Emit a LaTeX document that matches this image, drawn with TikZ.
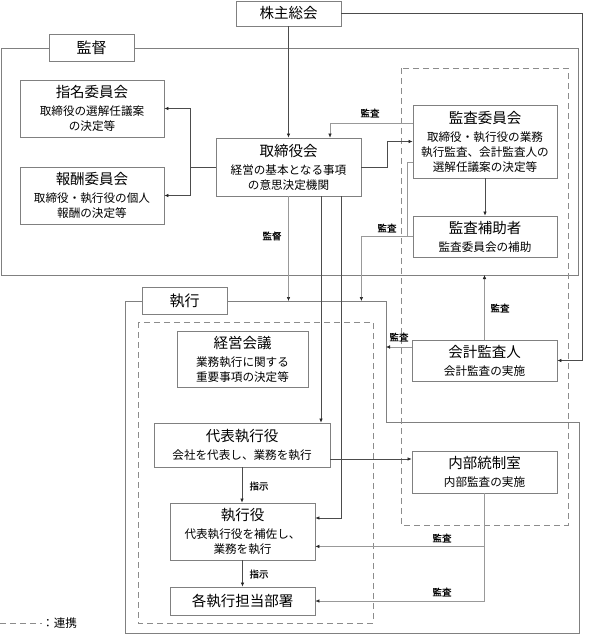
\documentclass[tikz,border=0pt]{standalone}
\usepackage{fontspec}
\setmainfont{Noto Sans CJK JP}
\newfontfamily\labfont[FakeBold=0.6]{Noto Sans CJK JP}
\usetikzlibrary{arrows.meta,calc}
\newcommand{\tfont}{\fontsize{14.5}{17}\selectfont}
\newcommand{\sfontx}{\fontsize{11.6}{15}\selectfont}
\newcommand{\lfont}{\labfont\fontsize{9.5}{11}\selectfont}
\newcommand{\ffont}{\fontsize{15}{17}\selectfont}
\begin{document}
\begin{tikzpicture}[x=1pt,y=-1pt,
 box/.style={draw=black!50, line width=0.8pt, fill=white, align=center, inner sep=0pt, font=\sfontx},
 frame/.style={draw=black!50, line width=0.8pt},
 grp/.style={draw=black!45, line width=1pt, dash pattern=on 6pt off 4pt},
 conn/.style={draw=black!70, line width=0.6pt},
 arr/.style={conn, -{Latex[length=4pt,width=3.5pt,color=black!85]}},
 dots/.style={draw=black!40, line width=0.5pt, dash pattern=on 0.5pt off 0.5pt},
 darr/.style={dots, -{Latex[length=4pt,width=3.5pt,color=black!85]}},
 lab/.style={font=\lfont, inner sep=1pt}
]
\useasboundingbox (0,0) rectangle (589,635);

% frames
\coordinate (kvTL) at (1,48);
\coordinate (kvBR) at (578,275);
\coordinate (exTL) at (125,301);
\coordinate (exR) at (386,301);
\draw[frame] (kvTL) rectangle (kvBR);
\draw[frame] (exTL) -- (exR) -- (386,422) -- (579,422) -- (579,633) -- (125,633) -- cycle;
\draw[grp] (401,68) rectangle (568,525);
\draw[grp] (138,322) rectangle (373,623);
\node[box, font=\ffont, minimum width=85pt, minimum height=27pt] (kantoku) at (91.5,47.5) {監督};
\node[box, font=\ffont, minimum width=85pt, minimum height=27pt] (shikkoL) at (184.5,300.5) {執行};

% boxes
\node[box, font=\tfont, minimum width=105pt, minimum height=25pt] (kabu) at (288.5,13.5) {株主総会};
\node[box, minimum width=144pt, minimum height=57pt] (shimei) at (92,108.5) {{\tfont 指名委員会}\\[3pt]取締役の選解任議案\\の決定等};
\node[box, minimum width=144pt, minimum height=57pt] (hoshu) at (92,195.5) {{\tfont 報酬委員会}\\[3pt]取締役・執行役の個人\\報酬の決定等};
\node[box, minimum width=145pt, minimum height=58pt] (tori) at (288.5,167) {{\tfont 取締役会}\\[3pt]経営の基本となる事項\\の意思決定機関};
\node[box, minimum width=144pt, minimum height=73pt] (kansa) at (485,141.5) {{\tfont 監査委員会}\\[3pt]取締役・執行役の業務\\執行監査、会計監査人の\\選解任議案の決定等};
\node[box, minimum width=144pt, minimum height=41pt] (hojo) at (485,236.5) {{\tfont 監査補助者}\\[3pt]監査委員会の補助};
\node[box, minimum width=145pt, minimum height=41pt] (kaikei) at (484.5,360.5) {{\tfont 会計監査人}\\[3pt]会計監査の実施};
\node[box, minimum width=131pt, minimum height=56pt] (keiei) at (242.5,359) {{\tfont 経営会議}\\[3pt]業務執行に関する\\重要事項の決定等};
\node[box, minimum width=176pt, minimum height=44pt] (daihyo) at (242,445) {{\tfont 代表執行役}\\[3pt]会社を代表し、業務を執行};
\node[box, minimum width=145pt, minimum height=57pt] (shikko) at (242.5,531.5) {{\tfont 執行役}\\[3pt]代表執行役を補佐し、\\業務を執行};
\node[box, font=\tfont, minimum width=145pt, minimum height=28pt] (kaku) at (242.5,601) {各執行担当部署};
\node[box, minimum width=145pt, minimum height=42pt] (naibu) at (484.5,472) {{\tfont 内部統制室}\\[3pt]内部監査の実施};

% connectors
\draw[arr] (kabu.south) -- (tori.north);
\draw[arr] (kabu.east) -- ++(241,0) |- (kaikei.east);
\coordinate (j1) at (190,167);
\draw[conn] (tori.west) -- (j1);
\draw[arr] (j1) |- (shimei.east);
\draw[arr] (j1) |- (hoshu.east);
\draw[arr] (tori.east) -- ++(26,0) |- (kansa.west);
\draw[darr] ($(kansa.west)+(0,-18.5)$) -| ($(tori.north)+(41.5,0)$);
\node[lab] (l1) at (370,113) {監査};
\draw[dots] ($(kansa.west)+(0,20.5)$) -- ++(-5,0) coordinate (b1) |- (hojo.west);
\draw[darr] (b1 |- hojo.west) -| (tori.east |- exTL);
\node[lab] (l2) at (387,228) {監査};
\draw[darr] (tori.south) -- (tori.south |- exTL);
\node[lab] (l3) at (272,236) {監督};
\coordinate (t1) at ($(tori.south)+(32.5,0)$);
\coordinate (t2) at ($(tori.south)+(52.5,0)$);
\draw[arr] (t1) -- (t1 |- daihyo.north);
\draw[arr] (t2) |- ($(shikko.east)+(0,-13.5)$);
\draw[arr] (kansa.south) -- (hojo.north);
\draw[arr] ($(daihyo.east)+(0,14)$) coordinate (p1) -- (p1 -| naibu.west);
\draw[arr] (daihyo.south) -- (daihyo.south |- shikko.north);
\node[lab] (l4) at (259,486) {指示};
\draw[arr] (shikko.south) -- (kaku.north);
\node[lab] (l5) at (259,574) {指示};
\draw[dots] (naibu.south) -- (naibu.south |- kaku.east);
\draw[darr] ($(naibu.south)+(0,53)$) coordinate (q1) -- (q1 -| shikko.east);
\draw[darr] (naibu.south |- kaku.east) -- (kaku.east);
\node[lab] (l6) at (442,538) {監査};
\node[lab] (l7) at (442,592) {監査};
\draw[darr] (kaikei.north) -- (kaikei.north |- kvBR);
\node[lab] (l8) at (500,308) {監査};
\draw[darr] ($(kaikei.west)+(0,-13.5)$) coordinate (p2) -- (p2 -| exR);
\node[lab] (l9) at (399,337) {監査};

% legend
\node[anchor=west, font=\sfontx, inner sep=0pt] (leg) at (42,623) {：連携};
\coordinate (leg0) at (0,623);
\draw[grp, line width=0.9pt] (leg0) -- ($(leg0)+(42,0)$);
\end{tikzpicture}
\end{document}
